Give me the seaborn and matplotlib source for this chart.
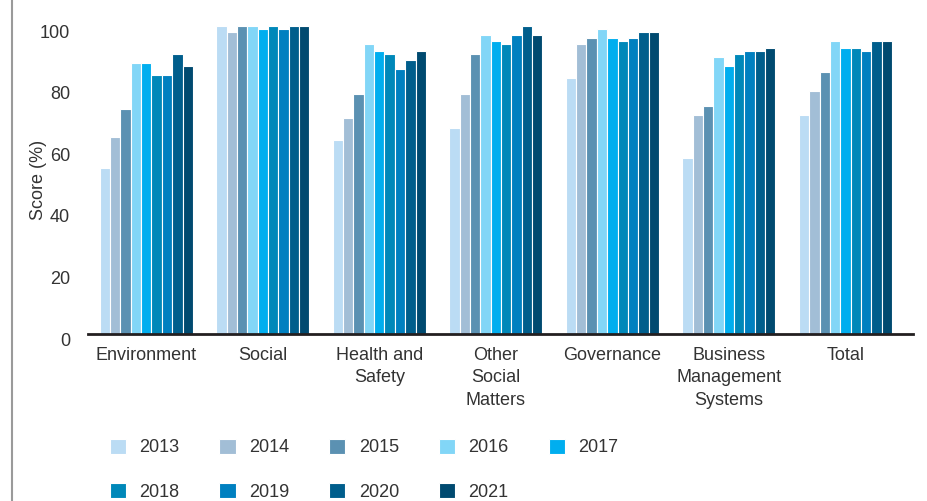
import matplotlib
matplotlib.use("Agg")
import matplotlib.pyplot as plt
import matplotlib.transforms as mtransforms
from matplotlib.lines import Line2D
import seaborn as sns
import pandas as pd

# Assessment scores by category and year
categories = ["Environment", "Social", "Health and\nSafety", "Other\nSocial\nMatters",
              "Governance", "Business\nManagement\nSystems", "Total"]
years = ["2013", "2014", "2015", "2016", "2017", "2018", "2019", "2020", "2021"]

environment = [54, 64, 73, 88, 88, 84, 84, 91, 87]
social = [100, 98, 100, 100, 99, 100, 99, 100, 100]
health_safety = [63, 70, 78, 94, 92, 91, 86, 89, 92]
other_social = [67, 78, 91, 97, 95, 94, 97, 100, 97]
governance = [83, 94, 96, 99, 96, 95, 96, 98, 98]
business_mgmt = [57, 71, 74, 90, 87, 91, 92, 92, 93]
total = [71, 79, 85, 95, 93, 93, 92, 95, 95]

year_colors = ["#BBDCF4", "#A2BED6", "#5B91B2", "#82D6F7", "#00AEEF",
               "#0088B9", "#0080C0", "#005E8C", "#004A70"]

series = [environment, social, health_safety, other_social, governance, business_mgmt, total]
rows = []
for cat, vals in zip(categories, series):
    for yr, v in zip(years, vals):
        rows.append({"Category": cat, "Year": yr, "Score": v})
df = pd.DataFrame(rows)

sns.set_theme(style="white")
plt.rcParams["font.family"] = ["Liberation Sans", "DejaVu Sans"]
text_color = "#333333"

fig = plt.figure(figsize=(9.28, 5.01), dpi=100)
ax = fig.add_axes([88 / 928, 1 - 334 / 501, (913 - 88) / 928, (334 - 26) / 501])

sns.barplot(data=df, x="Category", y="Score", hue="Year", order=categories,
            hue_order=years, palette=year_colors, width=0.8, ax=ax,
            edgecolor="white", linewidth=0.8, saturation=1)

handles, labels = ax.get_legend_handles_labels()
ax.get_legend().remove()

ax.set_ylim(0, 100)
ax.set_xlim(-0.5, 6.58)
ax.set_yticks([0, 20, 40, 60, 80, 100])
ax.set_xlabel("")
ax.set_ylabel("Score (%)", fontsize=13, color=text_color)
ax.yaxis.set_label_coords((47 - 88) / 825, 0.5)

for side in ["top", "right", "left"]:
    ax.spines[side].set_visible(False)
ax.spines["bottom"].set_color("#231f20")
ax.spines["bottom"].set_linewidth(2.0)

ax.tick_params(axis="x", length=0, pad=9, labelsize=13, labelcolor=text_color)
ax.tick_params(axis="y", length=0, pad=13, labelsize=13, labelcolor=text_color)
for lbl in ax.get_xticklabels():
    lbl.set_linespacing(1.45)

# nudge y tick labels slightly below their tick positions
offset = mtransforms.ScaledTranslation(0, -5 / 100, fig.dpi_scale_trans)
for lbl in ax.get_yticklabels():
    lbl.set_transform(lbl.get_transform() + offset)

# legend reads row by row: 2013-2017 on top, 2018-2021 below
order = [0, 5, 1, 6, 2, 7, 3, 8, 4]
fig.legend([handles[i] for i in order], [labels[i] for i in order],
           loc="upper left", ncol=5, frameon=False,
           bbox_to_anchor=(97 / 928, 1 - 426 / 501), bbox_transform=fig.transFigure,
           fontsize=13, labelcolor=text_color, handlelength=0.9, handleheight=0.9,
           handletextpad=0.75, columnspacing=2.2, labelspacing=1.5, borderpad=0.2)

# page border on the left
fig.add_artist(Line2D([12.5 / 928, 12.5 / 928], [0, 1], transform=fig.transFigure,
                      color="#9a9a9a", linewidth=1.5))

fig.savefig("out.png", dpi=100)
